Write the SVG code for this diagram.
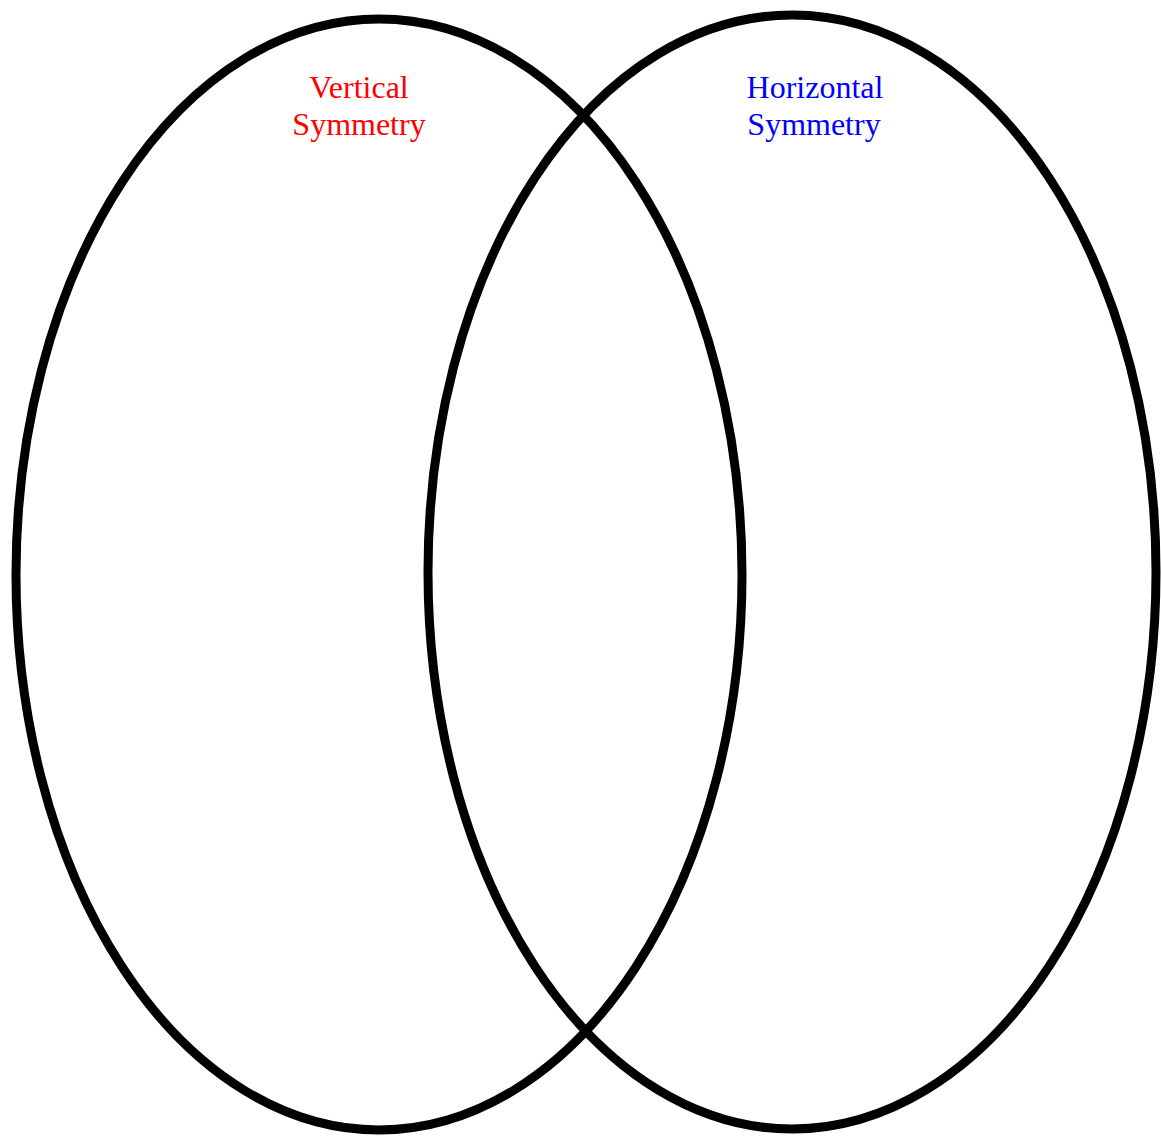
<svg xmlns="http://www.w3.org/2000/svg" width="1161" height="1136" viewBox="0 0 1161 1136">
<style>
.set{fill:none;stroke:#000;stroke-width:9}
.lbl{font-family:"Liberation Serif","Times New Roman",serif;font-size:32px;text-anchor:middle}
</style>
<rect width="1161" height="1136" fill="#fff"/>
<g id="set-vertical">
<ellipse class="set" cx="379" cy="574.5" rx="363" ry="555.5"/>
<text class="lbl" fill="#ff0000" x="359" y="98">Vertical</text>
<text class="lbl" fill="#ff0000" x="359" y="135">Symmetry</text>
</g>
<g id="set-horizontal">
<ellipse class="set" cx="792" cy="572" rx="364" ry="557"/>
<text class="lbl" fill="#0000ff" x="815" y="98">Horizontal</text>
<text class="lbl" fill="#0000ff" x="814" y="135">Symmetry</text>
</g>
<g id="connectors"></g>
</svg>
